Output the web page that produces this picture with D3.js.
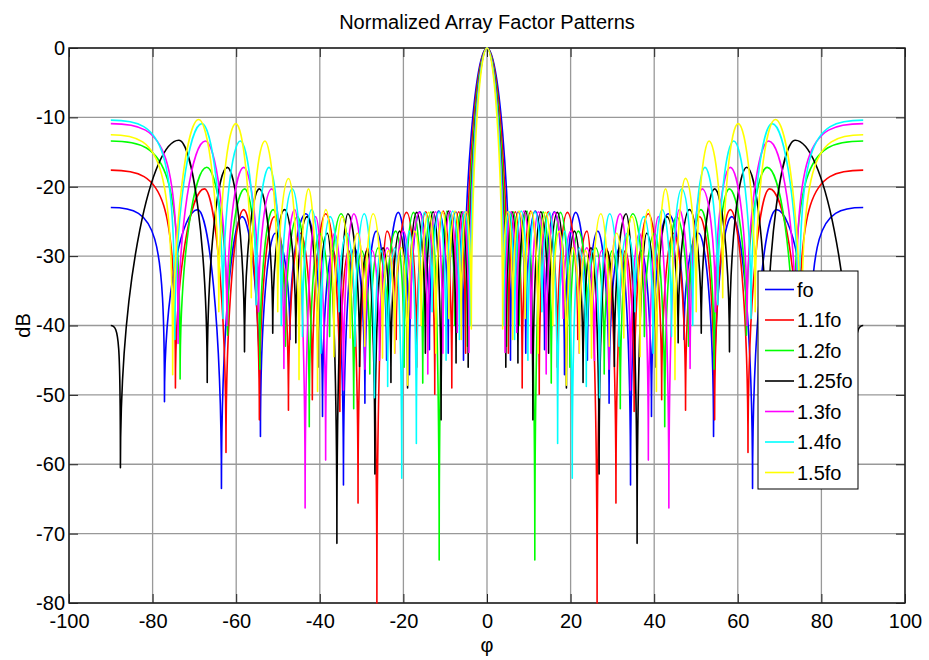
<!DOCTYPE html>
<html>
<head>
<meta charset="utf-8">
<script src="https://cdn.jsdelivr.net/npm/d3@7"></script>
<style>
  body { margin: 0; background: #fff; }
  svg { display: block; font-family: "Liberation Sans", Arial, Helvetica, sans-serif; }
</style>
</head>
<body>
<div id="chart"></div>
<script>
/**
 * Normalized Array Factor Patterns
 * Pattern vs angle for 7 frequencies (lobe peaks and nulls read off the right half,
 * the pattern is symmetric about broadside)
 */

const seriesNames = ["fo", "1.1fo", "1.2fo", "1.25fo", "1.3fo", "1.4fo", "1.5fo"];
const xTicks = [-100, -80, -60, -40, -20, 0, 20, 40, 60, 80, 100];
const yTicks = [0, -10, -20, -30, -40, -50, -60, -70, -80];

// [phi (deg), level (dB)] alternating peak / null, phi >= 0
const afFo = [
  [0, 0], [5.62, -45], [7.47, -23.6], [9.27, -44], [11.54, -23.5], [13.77, -43.5],
  [16.14, -23.6], [18.54, -47.1], [21.22, -23.7], [24.02, -45], [26.49, -26.4], [29.21, -51.2],
  [31.74, -28.8], [34.34, -63], [36.87, -29.2], [39.35, -53.1], [43.32, -23.9], [47.14, -42],
  [50.63, -26.7], [54.2, -56], [58.56, -24.3], [63.53, -63.5], [69.24, -23.3], [77.16, -51],
  [90, -23]
];
const af11fo = [
  [0, 0], [5.11, -44], [6.79, -23.6], [8.42, -49], [10.48, -23.5], [12.5, -49.9],
  [14.64, -23.6], [16.8, -46], [19.22, -23.7], [21.72, -42], [23.92, -26.4], [26.34, -80],
  [28.57, -28.8], [30.85, -65.6], [33.06, -29.2], [35.2, -52.4], [38.59, -23.9], [41.79, -50.7],
  [44.65, -26.7], [47.5, -52.2], [50.85, -24.3], [54.46, -53.6], [58.21, -23.3], [62.44, -58.3],
  [67.61, -20.3], [74.54, -49], [90, -17.6]
];
const af12fo = [
  [0, 0], [4.68, -43], [6.22, -23.6], [7.71, -40], [9.6, -23.5], [11.44, -73.8],
  [13.4, -23.6], [15.37, -48.3], [17.56, -23.7], [19.83, -46], [21.82, -26.4], [24, -40],
  [26, -28.8], [28.04, -47], [30, -29.2], [31.89, -52], [34.87, -23.9], [37.65, -41.6],
  [40.11, -26.7], [42.52, -54.6], [45.31, -24.3], [48.24, -43], [51.19, -23.3], [54.35, -46.3],
  [57.96, -20.3], [62.06, -41.4], [67.05, -17.2], [73.42, -47.7], [90, -13.4]
];
const af125fo = [
  [0, 0], [4.5, -46], [5.97, -23.6], [7.4, -45.4], [9.21, -23.5], [10.98, -53.6],
  [12.85, -23.6], [14.74, -44], [16.84, -23.7], [19, -49], [20.9, -26.4], [22.98, -48.2],
  [24.89, -28.8], [26.82, -61.4], [28.69, -29.2], [30.48, -45.9], [33.29, -23.9], [35.91, -71.4],
  [38.2, -26.7], [40.46, -46], [43.03, -24.3], [45.73, -42.5], [48.42, -23.3], [51.26, -41.1],
  [54.46, -20.3], [58.01, -43.8], [62.15, -17.2], [66.93, -48.2], [73.74, -13.3], [87.7, -60.5],
  [90, -40]
];
const af13fo = [
  [0, 0], [4.32, -43.9], [5.74, -23.6], [7.12, -41], [8.85, -23.5], [10.55, -44],
  [12.35, -23.6], [14.16, -47], [16.17, -23.7], [18.25, -39], [20.07, -26.4], [22.05, -44],
  [23.87, -28.8], [25.71, -45], [27.49, -29.2], [29.19, -46.3], [31.85, -23.9], [34.33, -49.3],
  [36.49, -26.7], [38.6, -59.4], [41.01, -24.3], [43.51, -66.3], [45.99, -23.3], [48.59, -46.2],
  [51.48, -20.3], [54.63, -38], [58.21, -17.2], [62.22, -40], [67.39, -13.4], [73.91, -42.6],
  [90, -10.9]
];
const af14fo = [
  [0, 0], [4.01, -40], [5.33, -23.6], [6.6, -42], [8.21, -23.5], [9.79, -45],
  [11.45, -23.6], [13.13, -38], [14.98, -23.7], [16.9, -57], [18.58, -26.4], [20.4, -62],
  [22.07, -28.8], [23.76, -48.8], [25.38, -29.2], [26.93, -50.4], [29.34, -23.9], [31.57, -43],
  [33.52, -26.7], [35.4, -38], [37.54, -24.3], [39.74, -44], [41.91, -23.3], [44.14, -41.6],
  [46.59, -20.3], [49.22, -40], [52.13, -17.2], [55.23, -37], [59.01, -13.4], [63.17, -39],
  [68.22, -10.9], [74.68, -42], [90, -10.4]
];
const af15fo = [
  [0, 0], [3.75, -40.5], [4.97, -23.6], [6.16, -42], [7.66, -23.5], [9.13, -39],
  [10.68, -23.6], [12.24, -44], [13.97, -23.7], [15.74, -40], [17.3, -26.4], [18.99, -48.6],
  [20.53, -28.8], [22.09, -44], [23.58, -29.2], [25, -44.7], [27.22, -23.9], [29.26, -43],
  [31.02, -26.7], [32.73, -41.8], [34.66, -24.3], [36.63, -44.5], [38.56, -23.3], [40.54, -49.5],
  [42.69, -20.3], [44.97, -47.8], [47.45, -18.8], [50.06, -38], [53.13, -13.4], [56.39, -36],
  [60.09, -10.9], [64.16, -38], [68.97, -10.3], [75.2, -47.1], [90, -12.5]
];

const seriesValues = [afFo, af11fo, af12fo, af125fo, af13fo, af14fo, af15fo];
const lineColors = ["#0000ff", "#ff0000", "#00ff00", "#000000", "#ff00ff", "#00ffff", "#ffff00"];

const afMargin = { top: 48, right: 24, bottom: 57, left: 69 };
const afWidth = 929 - afMargin.left - afMargin.right;
const afHeight = 660 - afMargin.top - afMargin.bottom;

const afSvg = d3
  .select("#chart")
  .append("svg")
  .attr("width", 929)
  .attr("height", 660);

afSvg.append("rect").attr("width", 929).attr("height", 660).attr("fill", "#fff");

const afG = afSvg
  .append("g")
  .attr("transform", `translate(${afMargin.left},${afMargin.top})`);

const afX = d3.scaleLinear().domain([-100, 100]).range([0, afWidth]);
const afY = d3.scaleLinear().domain([-80, 0]).range([afHeight, 0]);

/* ---------- Grid ---------- */
afG
  .append("g")
  .selectAll("line")
  .data(xTicks)
  .join("line")
  .attr("x1", (d) => afX(d))
  .attr("x2", (d) => afX(d))
  .attr("y1", 0)
  .attr("y2", afHeight)
  .attr("stroke", "#999")
  .attr("stroke-width", 1.3);

afG
  .append("g")
  .selectAll("line")
  .data(yTicks)
  .join("line")
  .attr("x1", 0)
  .attr("x2", afWidth)
  .attr("y1", (d) => afY(d))
  .attr("y2", (d) => afY(d))
  .attr("stroke", "#999")
  .attr("stroke-width", 1.3);

/* ---------- Lobe curve ---------- */
// rounded tops (horizontal tangent), sharp nulls (vertical tangent), like a pattern in dB
function curveLobe(context) {
  let pts;
  return {
    areaStart() {},
    areaEnd() {},
    lineStart() { pts = []; },
    point(x, y) { pts.push([+x, +y]); },
    lineEnd() {
      const n = pts.length;
      if (!n) return;
      context.moveTo(pts[0][0], pts[0][1]);
      for (let i = 1; i < n; i++) {
        const [x0, y0] = pts[i - 1];
        const [x1, y1] = pts[i];
        const edge = i === 1 || i === n - 1; // phi = +-90 is flat
        const a = edge ? 0.85 : 0.45;
        const b = edge ? 0.9 : 0.6;
        if (y0 <= y1) {
          context.bezierCurveTo(x0 + a * (x1 - x0), y0, x1, y1 + b * (y0 - y1), x1, y1);
        } else {
          context.bezierCurveTo(x0, y0 + b * (y1 - y0), x1 + a * (x0 - x1), y1, x1, y1);
        }
      }
    },
  };
}

/* ---------- Lines ---------- */
afSvg
  .append("clipPath")
  .attr("id", "af-clip")
  .append("rect")
  .attr("x", afMargin.left)
  .attr("y", afMargin.top - 1)
  .attr("width", afWidth)
  .attr("height", afHeight + 2);

// pattern is symmetric about broadside: mirror the read half
const mirror = (half) =>
  half.slice(1).map((d) => [-d[0], d[1]]).reverse().concat(half);

const afLine = d3
  .line()
  .x((d) => afX(d[0]))
  .y((d) => afY(d[1]))
  .curve(curveLobe);

afSvg
  .append("g")
  .attr("clip-path", "url(#af-clip)")
  .append("g")
  .attr("transform", `translate(${afMargin.left},${afMargin.top})`)
  .selectAll("path")
  .data(seriesValues)
  .join("path")
  .attr("fill", "none")
  .attr("stroke", (d, i) => lineColors[i])
  .attr("stroke-width", 1.6)
  .attr("stroke-linejoin", "round")
  .attr("d", (d) => afLine(mirror(d)));

/* ---------- Axes ---------- */
const styleAxis = (g) => {
  g.select(".domain").remove();
  g.selectAll(".tick line").attr("stroke", "#222");
  g.selectAll(".tick text").attr("fill", "#000");
  g.attr("font-size", 20).attr("font-family", null);
};

afG
  .append("g")
  .attr("transform", `translate(0,${afHeight})`)
  .call(
    d3.axisBottom(afX).tickValues(xTicks).tickFormat((d) => String(d))
      .tickSizeInner(-9).tickSizeOuter(0).tickPadding(11)
  )
  .call(styleAxis);

afG
  .append("g")
  .call(
    d3.axisLeft(afY).tickValues(yTicks).tickFormat((d) => String(d))
      .tickSizeInner(-9).tickSizeOuter(0).tickPadding(4)
  )
  .call(styleAxis);

afG
  .append("g")
  .call(d3.axisTop(afX).tickValues(xTicks).tickSizeInner(-9).tickSizeOuter(0).tickFormat(""))
  .call(styleAxis);

afG
  .append("g")
  .attr("transform", `translate(${afWidth},0)`)
  .call(d3.axisRight(afY).tickValues(yTicks).tickSizeInner(-9).tickSizeOuter(0).tickFormat(""))
  .call(styleAxis);

afG
  .append("rect")
  .attr("width", afWidth)
  .attr("height", afHeight)
  .attr("fill", "none")
  .attr("stroke", "#222")
  .attr("stroke-width", 1.5);

/* ---------- Labels ---------- */
afSvg
  .append("text")
  .attr("x", afMargin.left + afWidth / 2)
  .attr("y", 29)
  .attr("text-anchor", "middle")
  .attr("font-size", 20)
  .text("Normalized Array Factor Patterns");

afSvg
  .append("text")
  .attr("transform", `translate(30,${afMargin.top + afHeight / 2}) rotate(-90)`)
  .attr("text-anchor", "middle")
  .attr("font-size", 20)
  .text("dB");

afSvg
  .append("text")
  .attr("x", afMargin.left + afWidth / 2)
  .attr("y", 652)
  .attr("text-anchor", "middle")
  .attr("font-size", 20)
  .text("\u03c6");

/* ---------- Legend ---------- */
const legend = afSvg.append("g").attr("transform", "translate(758,271)");

legend
  .append("rect")
  .attr("width", 100)
  .attr("height", 218)
  .attr("fill", "#fff")
  .attr("stroke", "#000")
  .attr("stroke-width", 1);

const legendRows = legend
  .selectAll(".legend-row")
  .data(seriesNames)
  .join("g")
  .attr("class", "legend-row")
  .attr("transform", (d, i) => `translate(0,${18.5 + i * 30.5})`);

legendRows
  .append("line")
  .attr("x1", 7)
  .attr("x2", 36)
  .attr("stroke", (d, i) => lineColors[i])
  .attr("stroke-width", 1.6);

legendRows
  .append("text")
  .attr("x", 39)
  .attr("dy", "0.35em")
  .attr("font-size", 20)
  .text((d) => d);
</script>
</body>
</html>
